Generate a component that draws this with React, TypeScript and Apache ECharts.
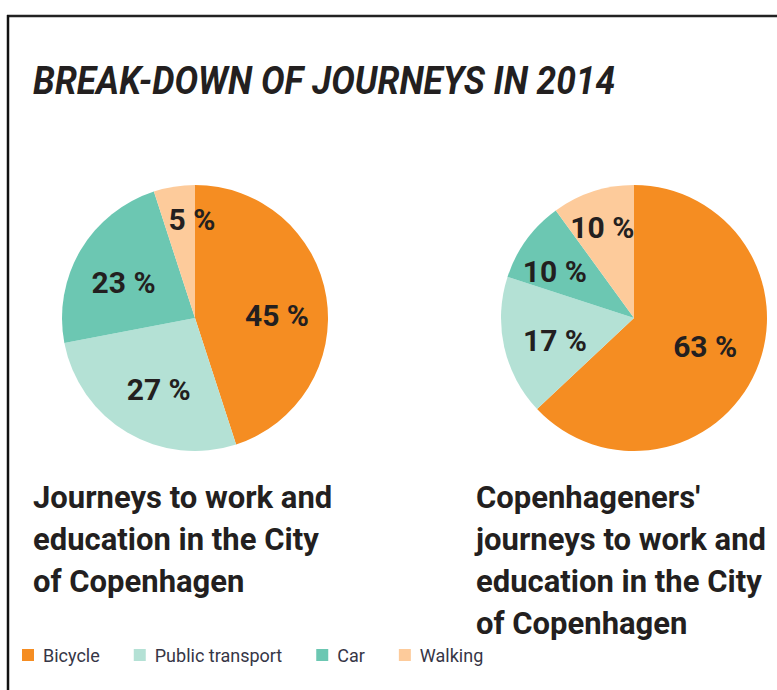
import React, { useEffect, useRef } from "react";
import * as echarts from "echarts";

const categories = ["Bicycle", "Public transport", "Car", "Walking"];
const cityValues = [45, 27, 23, 5];
const copenhagenersValues = [63, 17, 10, 10];
const titleText = "BREAK-DOWN OF JOURNEYS IN 2014";
const leftSubtitle = ["Journeys to work and", "education in the City", "of Copenhagen"];
const rightSubtitle = ["Copenhageners'", "journeys to work and", "education in the City", "of Copenhagen"];

const colors = ["#F58D22", "#B4E1D5", "#6CC7B2", "#FDCB9B"];
const leftLabelNudge = [[0, 10], [6, 0], [0, 7], [10, -17]];
const rightLabelNudge = [[-5, -4], [2, 4], [-12, 2], [-6, -12]];

const FONT = "'Roboto', 'DejaVu Sans', sans-serif";

function pieSeries(values: number[], center: [number, number], nudges: number[][]) {
  return [
    {
      type: "pie",
      center,
      radius: 133,
      startAngle: 90,
      clockwise: true,
      silent: true,
      label: { show: false },
      labelLine: { show: false },
      data: values.map((v, i) => ({
        name: categories[i],
        value: v,
        itemStyle: { color: colors[i] },
      })),
    },
    {
      type: "pie",
      center,
      radius: 160,
      startAngle: 90,
      clockwise: true,
      silent: true,
      itemStyle: { color: "rgba(0,0,0,0)" },
      labelLine: { show: false },
      label: {
        show: true,
        position: "inside",
        formatter: "{c} %",
        fontFamily: FONT,
        fontWeight: "bold",
        fontSize: 30,
        color: "#231f20",
      },
      data: values.map((v, i) => ({
        value: v,
        label: { offset: nudges[i] },
      })),
    },
  ];
}

export default function App() {
  const ref = useRef<HTMLDivElement>(null);
  useEffect(() => {
    document.body.style.margin = "0";
    if (!ref.current) return;
    const chart = echarts.init(ref.current, null, { renderer: "svg" });
    chart.setOption({
      animation: false,
      backgroundColor: "#ffffff",
      legend: {
        data: categories,
        left: 22,
        top: 646,
        padding: 0,
        icon: "rect",
        itemWidth: 12,
        itemHeight: 12,
        itemGap: 34,
        selectedMode: false,
        textStyle: { fontFamily: FONT, fontSize: 18, color: "#363646", padding: [0, 0, 0, 4] },
      },
      graphic: [
        { type: "line", shape: { x1: 7, y1: 16, x2: 777, y2: 16 }, style: { stroke: "#222", lineWidth: 2.5 } },
        { type: "line", shape: { x1: 8, y1: 15, x2: 8, y2: 690 }, style: { stroke: "#111", lineWidth: 2.5 } },
        {
          type: "text",
          x: 33,
          y: 62,
          scaleX: 0.93,
          style: {
            text: titleText,
            fontFamily: FONT,
            fontStyle: "italic",
            fontWeight: "bold",
            fontSize: 38,
            fill: "#231f20",
            verticalAlign: "top",
          },
        },
        {
          type: "text",
          left: 33,
          top: 476,
          style: {
            text: leftSubtitle.join("\n"),
            fontFamily: FONT,
            fontWeight: "bold",
            fontSize: 31,
            lineHeight: 42,
            fill: "#231f20",
          },
        },
        {
          type: "text",
          left: 476,
          top: 476,
          style: {
            text: rightSubtitle.join("\n"),
            fontFamily: FONT,
            fontWeight: "bold",
            fontSize: 31,
            lineHeight: 42,
            fill: "#231f20",
          },
        },
      ],
      series: [
        ...pieSeries(cityValues, [195, 318], leftLabelNudge),
        ...pieSeries(copenhagenersValues, [634, 318], rightLabelNudge),
      ],
    });
    return () => chart.dispose();
  }, []);
  return <div ref={ref} style={{ width: 777, height: 690 }} />;
}
